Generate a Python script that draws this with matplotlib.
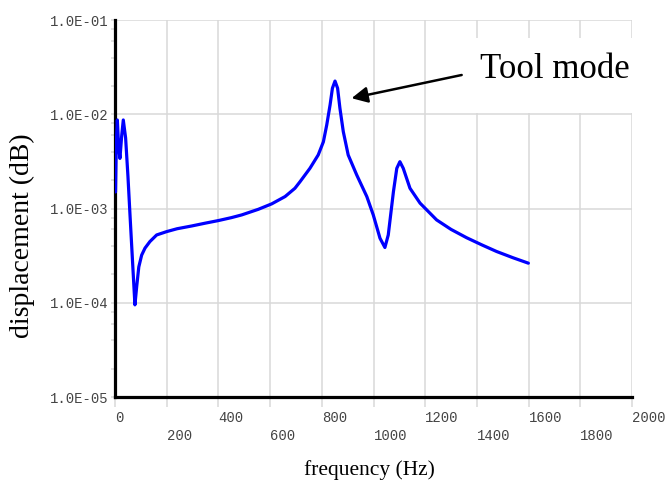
import matplotlib
matplotlib.use('Agg')
import matplotlib.pyplot as plt
from matplotlib.patches import Rectangle
from matplotlib.ticker import FixedLocator, NullFormatter

# frequency response
freq_hz = [2, 5, 9, 14, 19, 26, 32, 41, 50, 58, 67, 77, 84, 92, 103, 116, 135,
           161, 200, 240, 297, 350, 400, 450, 490, 554, 606, 658, 696, 716, 754,
           786, 806, 819, 832, 841, 851, 861, 870, 883, 902, 935, 974, 999, 1025,
           1044, 1057, 1077, 1090, 1102, 1115, 1141, 1180, 1244, 1300, 1360,
           1420, 1476, 1540, 1599]
displacement = [1.5e-3, 5.0e-3, 8.7e-3, 4.5e-3, 3.4e-3, 6.0e-3, 8.7e-3, 5.6e-3,
                2.2e-3, 8.5e-4, 3.0e-4, 9.5e-5, 1.5e-4, 2.4e-4, 3.2e-4, 3.8e-4,
                4.46e-4, 5.24e-4, 5.69e-4, 6.1e-4, 6.53e-4, 7.0e-4, 7.45e-4,
                8.0e-4, 8.55e-4, 9.8e-4, 1.12e-3, 1.34e-3, 1.64e-3, 1.93e-3,
                2.67e-3, 3.7e-3, 5.1e-3, 7.7e-3, 1.26e-2, 1.89e-2, 2.25e-2, 1.89e-2,
                1.16e-2, 6.55e-3, 3.7e-3, 2.27e-3, 1.34e-3, 8.55e-4, 4.84e-4,
                3.86e-4, 5.24e-4, 1.51e-3, 2.67e-3, 3.14e-3, 2.67e-3, 1.64e-3,
                1.14e-3, 7.57e-4, 6.0e-4, 4.9e-4, 4.1e-4, 3.5e-4, 3.0e-4, 2.63e-4]

x_ticks = [0, 200, 400, 600, 800, 1000, 1200, 1400, 1600, 1800, 2000]
y_ticks = [1e-5, 1e-4, 1e-3, 1e-2, 1e-1]
y_tick_labels = ['1.0E-05', '1.0E-04', '1.0E-03', '1.0E-02', '1.0E-01']
y_minor = [m * d for d in [1e-5, 1e-4, 1e-3, 1e-2] for m in (2, 4, 6, 8)]

arrow_head = (915, 1.48e-2)
arrow_tail = (1341, 2.61e-2)
label_pos = (1412, 2.95e-2)

GRID = '#d9d9d9'
TICKFONT = 'Liberation Mono'
SERIF = 'Liberation Serif'


def run():
  fig = plt.figure(figsize=(6.66, 4.80), dpi=100)
  ax = fig.add_axes([0.1727, 0.1729, 0.7763, 0.7854])
  ax.set_yscale('log')
  ax.set_xlim(0, 2000)
  ax.set_ylim(1e-5, 1e-1)
  ax.set_axisbelow(True)

  ax.plot(freq_hz, displacement, color='#0000ff', lw=2.3, zorder=3,
          solid_joinstyle='round', solid_capstyle='round')

  # ticks
  ax.set_xticks(x_ticks)
  ax.set_xticklabels([('' if i % 2 == 0 else '\n') + str(v) for i, v in enumerate(x_ticks)],
                     ha='left', family=TICKFONT, fontsize=10, color='#444444',
                     linespacing=1.35)
  ax.yaxis.set_major_locator(FixedLocator(y_ticks))
  ax.set_yticklabels(y_tick_labels, family=TICKFONT, fontsize=10, color='#444444')
  ax.yaxis.set_minor_locator(FixedLocator(y_minor))
  ax.yaxis.set_minor_formatter(NullFormatter())
  ax.tick_params(axis='x', which='major', direction='out', length=7, width=1.1,
                 color=GRID, pad=3)
  ax.tick_params(axis='y', which='both', direction='out', length=3, width=1.1,
                 color=GRID, pad=2)
  ax.grid(True, which='major', color=GRID, lw=1.1)

  for side in ['top', 'right']:
    ax.spines[side].set_visible(False)
  for side in ['left', 'bottom']:
    ax.spines[side].set_color('black')
    ax.spines[side].set_linewidth(2.3)

  ax.set_xlabel('frequency (Hz)', family=SERIF, fontsize=15.5, va='center')
  ax.xaxis.set_label_coords(0.493, -0.194)
  ax.set_ylabel('displacement (dB)', family=SERIF, fontsize=20, va='center')
  ax.yaxis.set_label_coords(-0.18, 0.427)

  # white box behind the annotation hides grid lines there
  ax.add_patch(Rectangle((0.687, 0.753), 0.34, 0.199, transform=ax.transAxes,
                         facecolor='white', edgecolor='none', clip_on=False, zorder=1))
  ax.annotate('', xy=arrow_head, xytext=arrow_tail,
              arrowprops=dict(arrowstyle='-|>', color='black', lw=1.8,
                              mutation_scale=24, shrinkA=0, shrinkB=0), zorder=4)
  ax.text(label_pos[0], label_pos[1], 'Tool mode', family=SERIF, fontsize=25,
          ha='left', va='center', zorder=4)

  fig.savefig('out.png', dpi=100)


run()
